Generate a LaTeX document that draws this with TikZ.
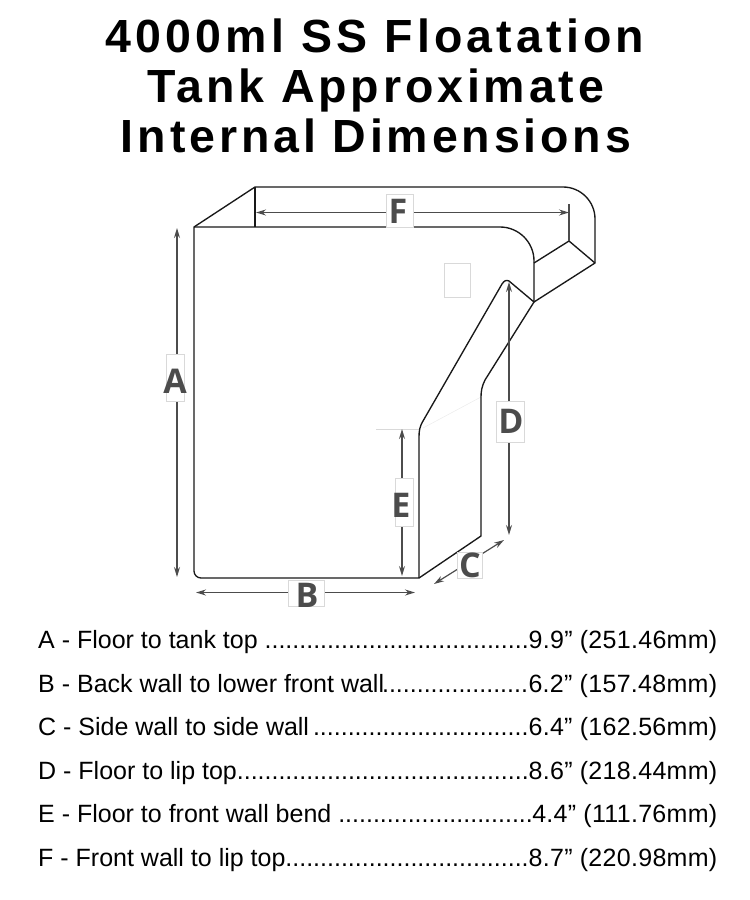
\documentclass[tikz,border=0pt]{standalone}
\usepackage{fontspec}
\setmainfont{Liberation Sans}
\newfontfamily\titlefont[LetterSpace=9]{Liberation Sans Bold}
\newfontfamily\titlefontb[LetterSpace=8.3]{Liberation Sans Bold}
\newfontfamily\valuefont[LetterSpace=1.2]{Liberation Sans}
\newfontfamily\dimfont{Open Sans}
\usetikzlibrary{arrows.meta}
\definecolor{dimgray}{gray}{0.3}
\definecolor{boxgray}{gray}{0.85}
\definecolor{wall}{gray}{0.1}
\newcommand{\legendrow}[2]{\makebox[490pt][l]{#1}\makebox[189pt][r]{\valuefont #2}}
\tikzset{
  x=1pt,y=-1pt,
  wallline/.style={draw=wall,line width=1.35pt,line join=round},
  dimline/.style={draw=dimgray,line width=1.2pt,{Stealth[length=10pt,width=6pt]}-{Stealth[length=10pt,width=6pt]}},
  dimbox/.style={draw=boxgray,line width=0.7pt,fill=white,inner sep=0pt,anchor=center},
  dimletter/.style={text=dimgray,inner sep=0pt,anchor=center,font=\dimfont\bfseries\fontsize{34}{34}\selectfont},
  titleline/.style={anchor=base,inner sep=0pt,font=\titlefont\fontsize{46.5}{46.5}\selectfont},
  titlelineb/.style={anchor=base,inner sep=0pt,font=\titlefontb\fontsize{46.5}{46.5}\selectfont},
  rowline/.style={anchor=base west,inner sep=0pt,font=\fontsize{25}{25}\selectfont},
  faint/.style={draw=boxgray,line width=0.7pt}
}
\begin{document}
\begin{tikzpicture}
\useasboundingbox (0,0) rectangle (750,900);
\node[titleline] (t1) at (375,52) {4000ml SS Floatation};
\node[titlelineb] (t2) at (376,102) {Tank Approximate};
\node[titlelineb] (t3) at (376,152) {Internal Dimensions};

% faint marks
\draw[faint] (444,263) rectangle (470,297);
\draw[faint] (376,429) -- (419,429);
\draw[draw=black!8,line width=0.5pt] (423,428) -- (481,397);

% tank
\draw[wallline] (419,578) -- (201,578) arc[start angle=90,end angle=180,radius=7] -- (194,227) -- (500,227)
  arc[start angle=-90,end angle=0,radius=34] -- (534,302) -- (509,281)
  .. controls (506,279.5) and (504,281) .. (502,284) -- (423,421)
  .. controls (420,426) and (419,430) .. (419,437) -- cycle;
\draw[wallline] (194,227) -- (255,187) -- (563,187) arc[start angle=-90,end angle=0,radius=32] -- (595,263) -- (534,302);
\draw[wallline] (255,187) -- (255,227);
\draw[wallline] (534,263) -- (569,241) -- (595,263);
\draw[draw=dimgray,line width=1.3pt] (569,241) -- (569,204);
\draw[wallline] (419,578) -- (481,536) -- (481,397) .. controls (481,391) and (482,386) .. (485,380) -- (534,302);

% dimensions
\coordinate (a1) at (177,228); \coordinate (a2) at (177,577);
\coordinate (b1) at (196,592.5); \coordinate (b2) at (415,592.5);
\coordinate (c1) at (434,584); \coordinate (c2) at (504,540);
\coordinate (d1) at (509,282); \coordinate (d2) at (509,535);
\coordinate (e1) at (402,429); \coordinate (e2) at (402,576);
\coordinate (f1) at (256,212.5); \coordinate (f2) at (569,212.5);
\draw[dimline] (a1) -- (a2);
\draw[dimline] (b1) -- (b2);
\draw[dimline] (c1) -- (c2);
\draw[dimline] (d1) -- (d2);
\draw[dimline] (e1) -- (e2);
\draw[dimline] (f1) -- (f2);
\node[dimbox,minimum width=18pt,minimum height=47pt] (A) at (175,378) {};
\node[dimletter] (Al) at (175,381) {A};
\node[dimbox,minimum width=36pt,minimum height=26pt] (B) at (306,593) {};
\node[dimletter] (Bl) at (307,595) {B};
\node[dimbox,minimum width=25pt,minimum height=26pt] (C) at (469.5,565) {};
\node[dimletter] (Cl) at (470,565) {C};
\node[dimbox,minimum width=28pt,minimum height=41pt] (D) at (510,421.5) {};
\node[dimletter] (Dl) at (511,421) {D};
\node[dimbox,minimum width=18pt,minimum height=48pt] (E) at (404,502) {};
\node[dimletter] (El) at (401,505) {E};
\node[dimbox,minimum width=27pt,minimum height=33pt] (F) at (399.5,210.5) {};
\node[dimletter] (Fl) at (398,211) {F};

% legend
\node[rowline] (ra) at (38,648) {\legendrow{A - Floor to tank top ......................................}{9.9” (251.46mm)}};
\node[rowline] (rb) at (38,692) {\legendrow{B - Back wall to lower front wall\kern-2pt .....................}{6.2” (157.48mm)}};
\node[rowline] (rc) at (38,735) {\legendrow{C - Side wall to side wall\kern4pt ...............................}{6.4” (162.56mm)}};
\node[rowline] (rd) at (38,779) {\legendrow{D - Floor to lip top..........................................}{8.6” (218.44mm)}};
\node[rowline] (re) at (38,822) {\legendrow{E - Floor to front wall bend ............................}{4.4” (111.76mm)}};
\node[rowline] (rf) at (38,866) {\legendrow{F - Front wall to lip top...................................}{8.7” (220.98mm)}};
\end{tikzpicture}
\end{document}
